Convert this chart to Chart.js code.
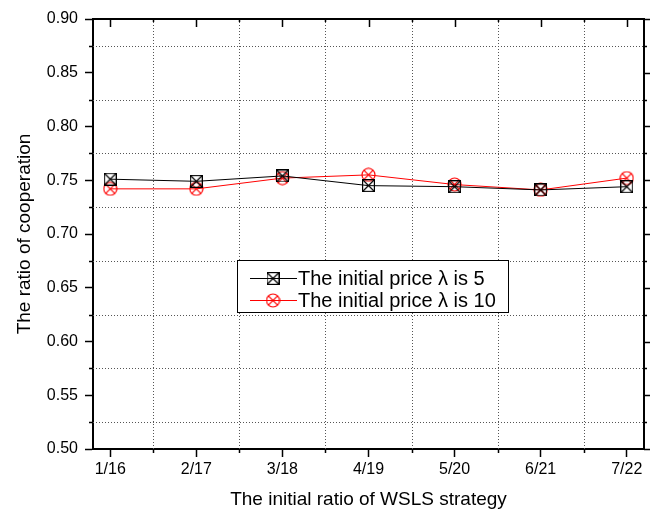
<!DOCTYPE html>
<html>
<head>
<meta charset="utf-8">
<script src="https://cdn.jsdelivr.net/npm/chart.js@4.4.1/dist/chart.umd.min.js"></script>
<style>
  html, body { margin: 0; padding: 0; background: #fff; }
  canvas { display: block; }
</style>
</head>
<body>
<canvas id="grafica" width="655" height="511"></canvas>
<script>
// datos
const categorias = ['1/16', '2/17', '3/18', '4/19', '5/20', '6/21', '7/22'];
const precio5 = [0.751, 0.749, 0.754, 0.745, 0.744, 0.741, 0.744];
const precio10 = [0.742, 0.742, 0.752, 0.755, 0.746, 0.741, 0.752];
const ticksY = [0.50, 0.55, 0.60, 0.65, 0.70, 0.75, 0.80, 0.85, 0.90];
const etiquetas = ['The initial price \u03bb is 5', 'The initial price \u03bb is 10'];

const fuente = '"Liberation Sans", Arial, sans-serif';

function marcaCuadro() {
  const c = document.createElement('canvas');
  c.width = 13; c.height = 13;
  const g = c.getContext('2d');
  g.strokeStyle = '#000';
  g.lineWidth = 1.2;
  g.strokeRect(0.6, 0.6, 11.8, 11.8);
  g.beginPath();
  g.moveTo(1, 1); g.lineTo(12, 12);
  g.moveTo(12, 1); g.lineTo(1, 12);
  g.stroke();
  return c;
}

function marcaCirculo() {
  const c = document.createElement('canvas');
  c.width = 15; c.height = 15;
  const g = c.getContext('2d');
  g.strokeStyle = '#ff0000';
  g.lineWidth = 1.2;
  g.beginPath();
  g.arc(7.5, 7.5, 6.5, 0, Math.PI * 2);
  g.stroke();
  const d = 6.5 * Math.SQRT1_2;
  g.beginPath();
  g.moveTo(7.5 - d, 7.5 - d); g.lineTo(7.5 + d, 7.5 + d);
  g.moveTo(7.5 + d, 7.5 - d); g.lineTo(7.5 - d, 7.5 + d);
  g.stroke();
  return c;
}

const iconoNegro = marcaCuadro();
const iconoRojo = marcaCirculo();

// rejilla punteada, marco y marcas menores
const marco = {
  id: 'marco',
  beforeDatasetsDraw(chart) {
    const { ctx, chartArea: a, scales: { x, y } } = chart;
    ctx.save();
    ctx.strokeStyle = '#555';
    ctx.lineWidth = 1;
    ctx.setLineDash([1, 2]);
    ctx.beginPath();
    for (let i = 0; i < ticksY.length - 1; i++) {
      const py = Math.round(y.getPixelForValue((ticksY[i] + ticksY[i + 1]) / 2)) + 0.5;
      ctx.moveTo(a.left, py); ctx.lineTo(a.right, py);
    }
    for (let i = 1; i < categorias.length; i++) {
      const px = Math.round(x.getPixelForValue(i + 0.5)) + 0.5;
      ctx.moveTo(px, a.top); ctx.lineTo(px, a.bottom);
    }
    ctx.stroke();
    ctx.setLineDash([]);

    ctx.strokeStyle = '#000';
    ctx.lineWidth = 1.5;
    ctx.beginPath();
    // marcas menores
    for (let i = 0; i < ticksY.length - 1; i++) {
      const py = Math.round(y.getPixelForValue((ticksY[i] + ticksY[i + 1]) / 2)) + 0.5;
      ctx.moveTo(a.left - 4, py); ctx.lineTo(a.left, py);
      ctx.moveTo(a.right, py); ctx.lineTo(a.right + 3, py);
    }
    for (let i = 1; i < categorias.length; i++) {
      const px = Math.round(x.getPixelForValue(i + 0.5)) + 0.5;
      ctx.moveTo(px, a.bottom); ctx.lineTo(px, a.bottom + 4);
      ctx.moveTo(px, a.top); ctx.lineTo(px, a.top + 3);
    }
    // marcas espejo arriba y derecha
    categorias.forEach((c, i) => {
      const px = Math.round(x.getPixelForValue(i + 1)) + 0.5;
      ctx.moveTo(px, a.top); ctx.lineTo(px, a.top + 8);
    });
    ticksY.forEach(v => {
      const py = Math.round(y.getPixelForValue(v)) + 0.5;
      ctx.moveTo(a.right, py); ctx.lineTo(a.right + 6, py);
    });
    ctx.stroke();

    ctx.lineWidth = 2;
    ctx.beginPath();
    ctx.moveTo(a.left, a.top); ctx.lineTo(a.right, a.top); ctx.lineTo(a.right, a.bottom);
    ctx.stroke();
    ctx.restore();
  },
  afterDraw(chart) {
    const { ctx, chartArea: a } = chart;
    const bx = a.left + 144, by = a.top + 241, bw = 271, bh = 52;
    ctx.save();
    ctx.fillStyle = '#fff';
    ctx.fillRect(bx, by, bw, bh);
    ctx.strokeStyle = '#000';
    ctx.lineWidth = 1;
    ctx.strokeRect(bx + 0.5, by + 0.5, bw, bh);
    chart.data.datasets.forEach((ds, i) => {
      const ly = by + 18 + i * 22;
      ctx.strokeStyle = ds.borderColor;
      ctx.lineWidth = 1;
      ctx.beginPath();
      ctx.moveTo(bx + 13, ly + 0.5); ctx.lineTo(bx + 60, ly + 0.5);
      ctx.stroke();
      const img = ds.pointStyle;
      ctx.drawImage(img, bx + 36 - img.width / 2, ly - img.height / 2 + 0.5);
      ctx.fillStyle = '#000';
      ctx.font = '20px ' + fuente;
      ctx.textBaseline = 'middle';
      ctx.textAlign = 'left';
      ctx.fillText(ds.label, bx + 61, ly + 1);
    });
    ctx.restore();
  }
};

new Chart(document.getElementById('grafica'), {
  type: 'line',
  data: {
    datasets: [{
      label: etiquetas[0],
      data: categorias.map((c, i) => ({ x: i + 1, y: precio5[i] })),
      borderColor: '#000000',
      borderWidth: 1,
      pointStyle: iconoNegro,
      pointRadius: 6,
      tension: 0
    }, {
      label: etiquetas[1],
      data: categorias.map((c, i) => ({ x: i + 1, y: precio10[i] })),
      borderColor: '#ff0000',
      borderWidth: 1,
      pointStyle: iconoRojo,
      pointRadius: 6,
      tension: 0
    }]
  },
  options: {
    responsive: false,
    animation: false,
    layout: { padding: { top: 19, right: 11, left: 0, bottom: 0 } },
    plugins: {
      legend: { display: false },
      tooltip: { enabled: false }
    },
    scales: {
      x: {
        type: 'linear',
        min: 0.8,
        max: 7.2,
        afterBuildTicks: s => { s.ticks = categorias.map((c, i) => ({ value: i + 1 })); },
        afterFit: s => { s.height = 62; },
        ticks: {
          autoSkip: false,
          maxRotation: 0,
          padding: 3,
          color: '#000',
          font: { family: fuente, size: 16 },
          callback: v => categorias[v - 1]
        },
        grid: { drawOnChartArea: false, tickLength: 8, tickColor: '#000', tickWidth: 1.5 },
        border: { display: true, color: '#000', width: 2 },
        title: {
          display: true,
          text: 'The initial ratio of WSLS strategy',
          color: '#000',
          font: { family: fuente, size: 19 },
          padding: { top: 3, bottom: 0 }
        }
      },
      y: {
        min: 0.5,
        max: 0.9,
        afterBuildTicks: s => { s.ticks = ticksY.map(v => ({ value: v })); },
        afterFit: s => { s.width = 93; },
        ticks: {
          padding: 7,
          color: '#000',
          font: { family: fuente, size: 16 },
          callback: v => v.toFixed(2)
        },
        grid: { drawOnChartArea: false, tickLength: 8, tickColor: '#000', tickWidth: 1.5 },
        border: { display: true, color: '#000', width: 2 },
        title: {
          display: true,
          text: 'The ratio of cooperation',
          color: '#000',
          font: { family: fuente, size: 19 },
          padding: { top: 13, bottom: 0 }
        }
      }
    }
  },
  plugins: [marco]
});
</script>
</body>
</html>
